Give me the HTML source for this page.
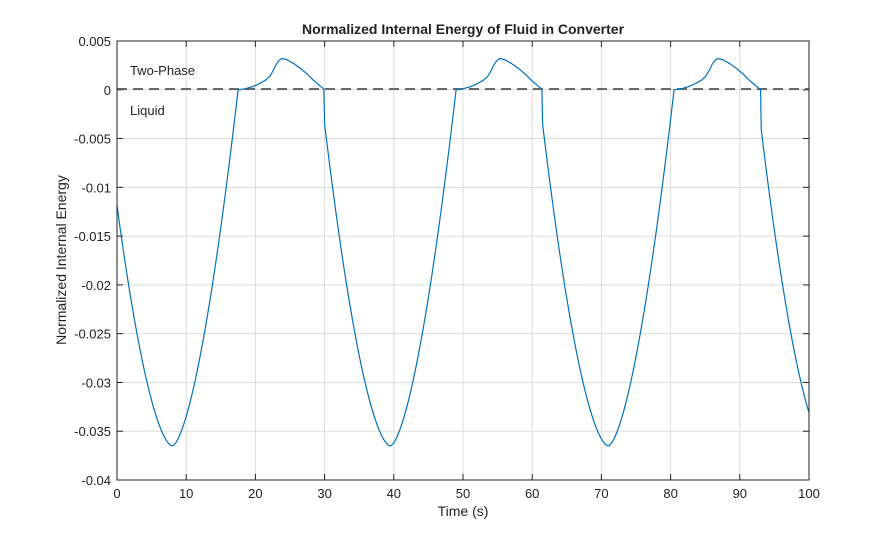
<!DOCTYPE html>
<html><head><meta charset="utf-8"><style>
body{margin:0;background:#fff;}
svg{display:block;font-family:"Liberation Sans",sans-serif;}
</style></head><body>
<svg id="s" width="895" height="540" viewBox="0 0 895 540" xmlns="http://www.w3.org/2000/svg">
<rect width="895" height="540" fill="#fff"/>
<g id="grid" stroke="#dcdcdc" stroke-width="1"></g>
<text x="463" y="34" text-anchor="middle" font-size="14" font-weight="bold" fill="#222">Normalized Internal Energy of Fluid in Converter</text>
<text x="463" y="516" text-anchor="middle" font-size="14" fill="#222">Time (s)</text>
<text transform="translate(66,260) rotate(-90)" text-anchor="middle" font-size="14" fill="#222">Normalized Internal Energy</text>
<g id="ticks" font-size="13" fill="#222"></g>
<line x1="117" y1="89" x2="809" y2="89" stroke="#555" stroke-width="1.8" stroke-dasharray="10,6"/>
<path id="curve" fill="none" stroke="#0072bd" stroke-width="1.2"/>
<text x="130" y="75" font-size="13" fill="#222">Two-Phase</text>
<text x="130" y="115" font-size="13" fill="#222">Liquid</text>
<rect x="117" y="41" width="692" height="439" fill="none" stroke="#222" stroke-width="1"/>
</svg>
<script>
var X0=117,X1=809,Y0=41,Y1=480;
function X(t){return X0+t/100*(X1-X0);}
function Y(v){return Y0+(0.005-v)/0.045*(Y1-Y0);}
var ns="http://www.w3.org/2000/svg",g=document.getElementById('grid'),tk=document.getElementById('ticks');
function el(p,n,a,txt){var e=document.createElementNS(ns,n);for(var k in a)e.setAttribute(k,a[k]);if(txt!==undefined)e.textContent=txt;p.appendChild(e);return e;}
for(var t=0;t<=100;t+=10){var x=X(t);el(g,'line',{x1:x,y1:Y0,x2:x,y2:Y1});
el(tk,'line',{x1:x,y1:Y1,x2:x,y2:Y1-6,stroke:'#222'});el(tk,'line',{x1:x,y1:Y0,x2:x,y2:Y0+6,stroke:'#222'});
el(tk,'text',{x:x,y:Y1+18,'text-anchor':'middle'},String(t));}
var labs=['0.005','0','-0.005','-0.01','-0.015','-0.02','-0.025','-0.03','-0.035','-0.04'];
for(var i=0;i<10;i++){var v=0.005-i*0.005,y=Y(v);el(g,'line',{x1:X0,y1:y,x2:X1,y2:y});
el(tk,'line',{x1:X0,y1:y,x2:X0+6,y2:y,stroke:'#222'});el(tk,'line',{x1:X1,y1:y,x2:X1-6,y2:y,stroke:'#222'});
el(tk,'text',{x:X0-6,y:y+5,'text-anchor':'end'},labs[i]);}
var P=31.5;
var tp=[[0,0],[1,0.0001],[2,0.0003],[3,0.0006],[4,0.0010],[4.6,0.0014],[5.1,0.0020],[5.5,0.0026],[5.9,0.0030],[6.3,0.0032],[7,0.0031],[8,0.0027],[9,0.0022],[10,0.0016],[11,0.0009],[12,0.0003],[12.5,0]];
function f(t){
 var r=((t-17.5)%P+P)%P;
 if(r<=12.5){for(var i=1;i<tp.length;i++){if(r<=tp[i][0]){var a=tp[i-1],b=tp[i];return a[1]+(b[1]-a[1])*(r-a[0])/(b[0]-a[0]);}}return 0;}
 var d=r-12.5, tm=9.5;
 if(d<tm){var u=(tm-d)/tm;return -0.0365+0.033*Math.pow(u,1.7);}
 var u=(d-tm)/tm;return -0.0365+0.0365*Math.pow(u,1.6);
}
var s='';for(var t=0;t<=100.001;t+=0.1){var v=f(t);s+=(t==0?'M':'L')+X(t).toFixed(2)+','+Y(v).toFixed(2);}
document.getElementById('curve').setAttribute('d',s);
</script>
</body></html>
